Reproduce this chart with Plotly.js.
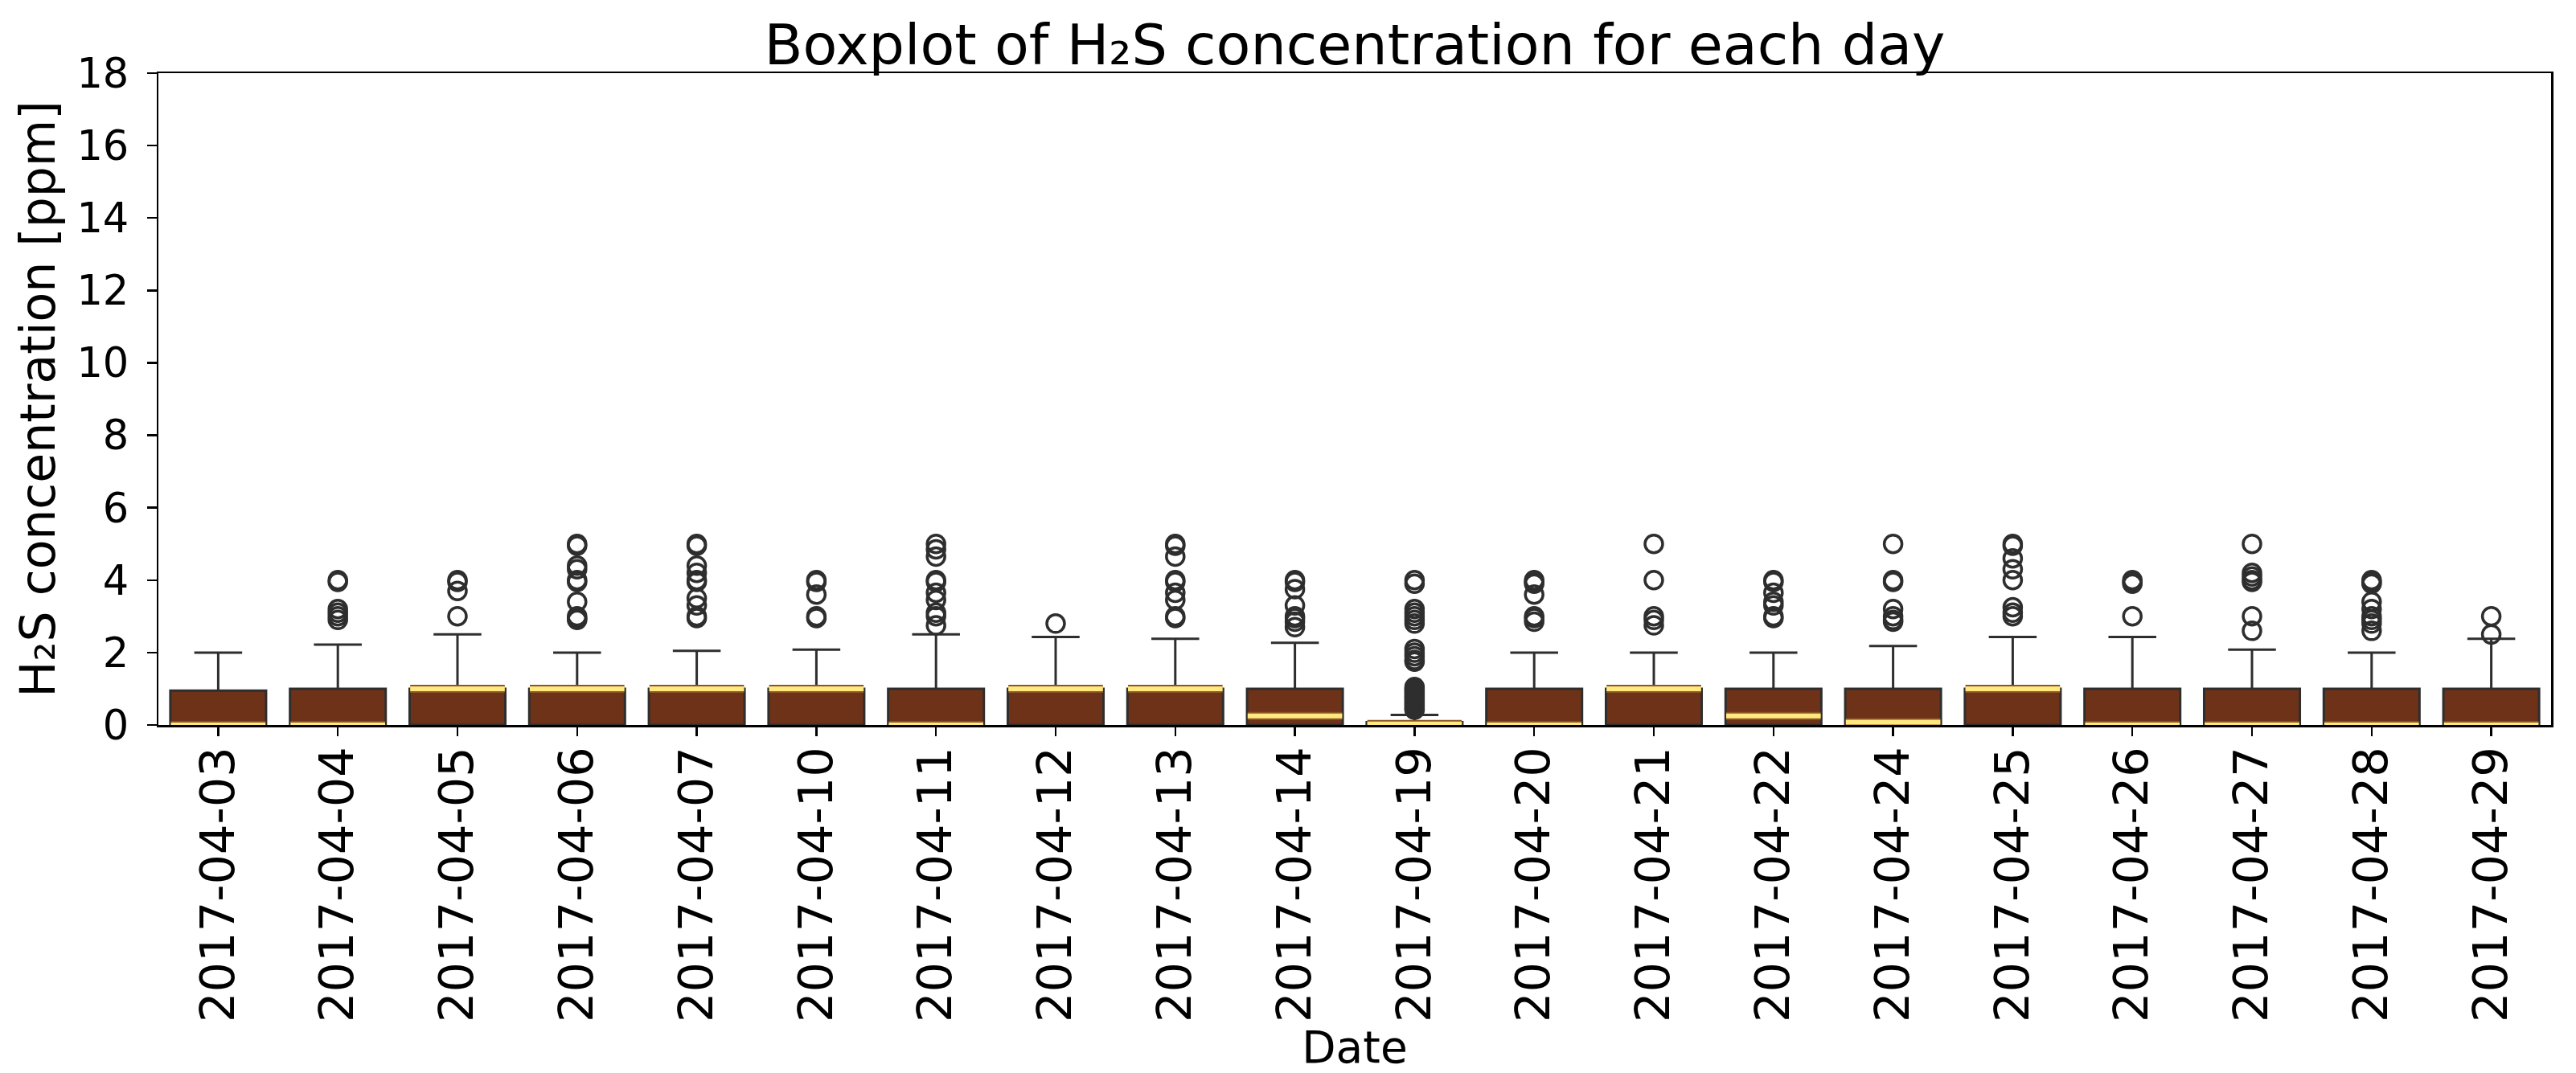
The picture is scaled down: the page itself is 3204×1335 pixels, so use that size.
<!DOCTYPE html>
<html>
<head>
<meta charset="utf-8">
<script src="https://cdn.plot.ly/plotly-3.0.1.min.js"></script>
<style>
  html, body { margin: 0; padding: 0; background: #ffffff; }
  #chart { width: 3204px; height: 1335px; }
</style>
</head>
<body>
<div id="chart"></div>
<script>
// ---- data ----
const dates = ['2017-04-03','2017-04-04','2017-04-05','2017-04-06','2017-04-07','2017-04-10',
               '2017-04-11','2017-04-12','2017-04-13','2017-04-14','2017-04-19','2017-04-20',
               '2017-04-21','2017-04-22','2017-04-24','2017-04-25','2017-04-26','2017-04-27',
               '2017-04-28','2017-04-29'];
const lowerWhisker = [0,0,0,0,0,0,0,0,0,0,0,0,0,0,0,0,0,0,0,0];
const q1Values     = [0,0,0,0,0,0,0,0,0,0,0,0,0,0,0,0,0,0,0,0];
const medianValues = [0,0,1,1,1,1,0,1,1,0.25,0.03,0,1,0.25,0.08,1,0,0,0,0];
const q3Values     = [0.95,1,1,1,1,1,1,1,1,1,0.08,1,1,1,1,1,1,1,1,1];
const upperWhisker = [2.0,2.22,2.5,2.0,2.05,2.08,2.5,2.43,2.38,2.27,0.28,2.0,2.0,2.0,2.18,2.43,2.43,2.08,2.0,2.38];
const outliers = [
  [],
  [4.0,3.95,3.2,3.1,3.0,2.9],
  [4.0,3.95,3.7,3.0],
  [5.0,4.95,4.4,4.3,4.0,3.95,3.4,3.0,2.95,2.9],
  [5.0,4.95,4.4,4.2,4.0,3.95,3.5,3.3,3.0,2.95],
  [4.0,3.95,3.6,3.0,2.95],
  [5.0,4.85,4.65,4.0,3.95,3.65,3.45,3.1,3.0,2.75],
  [2.8],
  [5.0,4.95,4.65,4.0,3.95,3.65,3.45,3.0,2.95],
  [4.0,3.95,3.75,3.3,3.0,2.95,2.85,2.7],
  [4.0,3.9,3.2,3.1,3.0,2.9,2.8,2.1,2.0,1.9,1.8,1.75,1.05,1.0,0.95,0.9,0.85,0.8,0.75,0.7,0.65,0.6,0.55,0.5,0.45,0.42],
  [4.0,3.95,3.9,3.6,3.0,2.95,2.85],
  [5.0,4.0,3.0,2.9,2.75],
  [4.0,3.95,3.65,3.4,3.3,3.0,2.95],
  [5.0,4.0,3.95,3.2,3.0,2.9,2.85],
  [5.0,4.95,4.6,4.3,4.0,3.25,3.1,3.0],
  [4.0,3.95,3.9,3.0],
  [5.0,4.2,4.1,4.0,3.95,3.0,2.6],
  [4.0,3.95,3.9,3.4,3.2,3.0,2.9,2.8,2.6],
  [3.0,2.5]
];
const yTicks = [0,2,4,6,8,10,12,14,16,18];

// ---- styling ----
const FONT = 'DejaVu Sans, Verdana, sans-serif';
const BROWN = '#6e3218';
const EDGE = '#2e2e2e';
const YELLOW = '#ffe97f';

const outX = [], outY = [];
outliers.forEach((arr, i) => arr.forEach(v => { outX.push(dates[i]); outY.push(v); }));

const boxes = {
  type: 'box', x: dates,
  q1: q1Values, median: medianValues, q3: q3Values,
  lowerfence: lowerWhisker, upperfence: upperWhisker,
  boxpoints: false, width: 0.8, whiskerwidth: 0.5,
  fillcolor: BROWN, line: {color: EDGE, width: 3},
  hoverinfo: 'skip', showlegend: false
};
const medianShadow = {
  type: 'box', x: dates,
  q1: medianValues, median: medianValues, q3: medianValues,
  lowerfence: medianValues, upperfence: medianValues,
  boxpoints: false, width: 0.79, whiskerwidth: 0,
  fillcolor: 'rgba(0,0,0,0)', line: {color: '#8a5426', width: 10},
  hoverinfo: 'skip', showlegend: false
};
const medianLine = {
  type: 'box', x: dates,
  q1: medianValues, median: medianValues, q3: medianValues,
  lowerfence: medianValues, upperfence: medianValues,
  boxpoints: false, width: 0.79, whiskerwidth: 0,
  fillcolor: 'rgba(0,0,0,0)', line: {color: YELLOW, width: 6},
  hoverinfo: 'skip', showlegend: false
};
const fliers = {
  type: 'scatter', mode: 'markers', x: outX, y: outY,
  marker: {symbol: 'circle-open', size: 22, color: EDGE, line: {width: 3.5, color: EDGE}},
  hoverinfo: 'skip', showlegend: false, cliponaxis: false
};

const layout = {
  width: 3204, height: 1335,
  margin: {l: 197, r: 31, t: 91, b: 433, pad: 0},
  paper_bgcolor: '#ffffff', plot_bgcolor: '#ffffff',
  font: {family: FONT, color: '#000000'},
  boxmode: 'overlay',
  showlegend: false,
  title: {
    text: 'Boxplot of H₂S concentration for each day',
    font: {family: FONT, size: 70, color: '#000000'},
    x: 0.5, xref: 'paper', xanchor: 'center',
    y: 1 - 55/1335, yref: 'container', yanchor: 'middle'
  },
  xaxis: {
    type: 'category', categoryorder: 'array', categoryarray: dates,
    range: [-0.5, dates.length - 0.5],
    tickangle: -90, tickfont: {family: FONT, size: 59, color: '#000000'},
    ticks: 'outside', ticklen: 11, tickwidth: 2.5, tickcolor: '#000000',
    ticklabelstandoff: -10,
    showline: true, linecolor: '#000000', linewidth: 2.5, mirror: true,
    showgrid: false, zeroline: false, automargin: false,
    title: {text: 'Date', font: {family: FONT, size: 55, color: '#000000'}, standoff: 0}
  },
  yaxis: {
    range: [0, 18], tickvals: yTicks, ticktext: yTicks.map(String),
    tickfont: {family: FONT, size: 51, color: '#000000'},
    ticks: 'outside', ticklen: 12, tickwidth: 2.5, tickcolor: '#000000',
    ticklabelstandoff: 12,
    showline: true, linecolor: '#000000', linewidth: 2.5, mirror: true,
    showgrid: false, zeroline: false, automargin: false,
    title: {text: 'H₂S concentration [ppm]', font: {family: FONT, size: 60, color: '#000000'}, standoff: 8}
  }
};

Plotly.newPlot('chart', [boxes, medianShadow, medianLine, fliers], layout,
  {staticPlot: true, displayModeBar: false});
</script>
</body>
</html>
